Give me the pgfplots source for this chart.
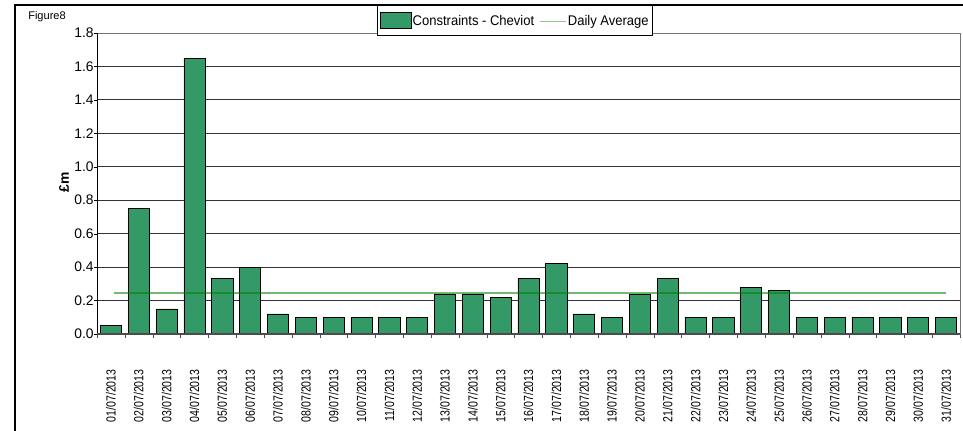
\documentclass[border=0pt]{standalone}
\usepackage{fontspec}
\setmainfont{Liberation Sans}
\newfontfamily\condx[FakeStretch=0.8]{Liberation Sans}
\newfontfamily\condl[FakeStretch=0.93]{Liberation Sans}
\usepackage{pgfplots}
\usepackage{pgfplotstable}
\pgfplotsset{compat=1.18}
\definecolor{barcol}{RGB}{51,153,102}
\definecolor{avgcol}{RGB}{0,128,0}
\pgfplotstableread{
x y
1 0.05
2 0.75
3 0.15
4 1.65
5 0.33
6 0.40
7 0.12
8 0.10
9 0.10
10 0.10
11 0.10
12 0.10
13 0.24
14 0.24
15 0.22
16 0.33
17 0.42
18 0.12
19 0.10
20 0.24
21 0.33
22 0.10
23 0.10
24 0.28
25 0.26
26 0.10
27 0.10
28 0.10
29 0.10
30 0.10
31 0.10
}\bardata
\pgfplotstableread{
x y
1.1 0.245
31 0.245
}\avgdata
\begin{document}
\begin{tikzpicture}
\useasboundingbox (0pt,0pt) rectangle (722.25pt,-323.25pt);
\draw[line width=1.1pt] (11.25pt,-330pt) -- (11.25pt,-3.75pt) -- (730pt,-3.75pt);
\node[anchor=west, inner sep=0pt, font=\fontsize{8.3}{9}\selectfont] at (21pt,-12.75pt) {Figure8};
\begin{axis}[
  at={(72.75pt,-250.5pt)}, anchor=south west,
  scale only axis, width=647.25pt, height=225.75pt,
  xmin=0.5, xmax=31.5, ymin=0, ymax=1.8,
  axis line style={draw=black!55},
  tick pos=left,
  xtick={1,...,31},
  xticklabels={01/07/2013,02/07/2013,03/07/2013,04/07/2013,05/07/2013,06/07/2013,07/07/2013,08/07/2013,09/07/2013,10/07/2013,11/07/2013,12/07/2013,13/07/2013,14/07/2013,15/07/2013,16/07/2013,17/07/2013,18/07/2013,19/07/2013,20/07/2013,21/07/2013,22/07/2013,23/07/2013,24/07/2013,25/07/2013,26/07/2013,27/07/2013,28/07/2013,29/07/2013,30/07/2013,31/07/2013},
  xticklabel style={rotate=90, anchor=east, font=\condx\fontsize{9.9}{10}\selectfont},
  xticklabel shift=20.5pt,
  major x tick style={draw=none},
  minor xtick={0.5,1.5,...,31.5},
  minor x tick style={draw=black!70},
  minor tick length=3pt,
  major tick length=2.5pt,
  tick align=outside,
  ytick={0,0.2,...,1.81},
  ytick style={draw=black},
  yticklabel style={font=\fontsize{10.4}{11}\selectfont, xshift=3.5pt, /pgf/number format/fixed, /pgf/number format/fixed zerofill, /pgf/number format/precision=1},
  /pgf/number format/assume math mode=true,
  ymajorgrids,
  grid style={draw=black!80, line width=0.6pt},
  ylabel={\bfseries £m},
  ylabel style={at={(axis description cs:-0.0382,0.505)}, anchor=center, font=\fontsize{10.4}{11}\selectfont},
  legend columns=2,
  legend style={at={(rel axis cs:0.3244,1.093)}, anchor=north west, draw=black, line width=0.6pt,
    font=\condl\fontsize{10.5}{11}\selectfont, inner xsep=2pt, inner ysep=5pt,
    /tikz/every even column/.append style={column sep=3pt},
    nodes={inner sep=1pt}},
  after end axis/.code={
    \draw[black, line width=0.6pt] (rel axis cs:0,0) -- (rel axis cs:0,1);
    \draw[black!70, line width=0.8pt] (rel axis cs:0,0) -- (rel axis cs:1,0);
  },
]
\addplot[ybar, bar width=0.76, fill=barcol, draw=black, line width=0.5pt,
  legend image code/.code={\draw[fill=barcol, draw=black, line width=0.5pt] (0pt,-5pt) rectangle (23pt,7pt);}]
  table[x=x,y=y] {\bardata};
\addlegendentry{Constraints - Cheviot}
\addplot[sharp plot, no marks, draw=avgcol, draw opacity=0.55, line width=1.5pt,
  legend image code/.code={\draw[avgcol!80!white, line width=0.7pt] (0pt,0pt) -- (19.5pt,0pt);}]
  table[x=x,y=y] {\avgdata};
\addlegendentry{Daily Average\hspace{6pt}}
\end{axis}
\end{tikzpicture}
\end{document}
